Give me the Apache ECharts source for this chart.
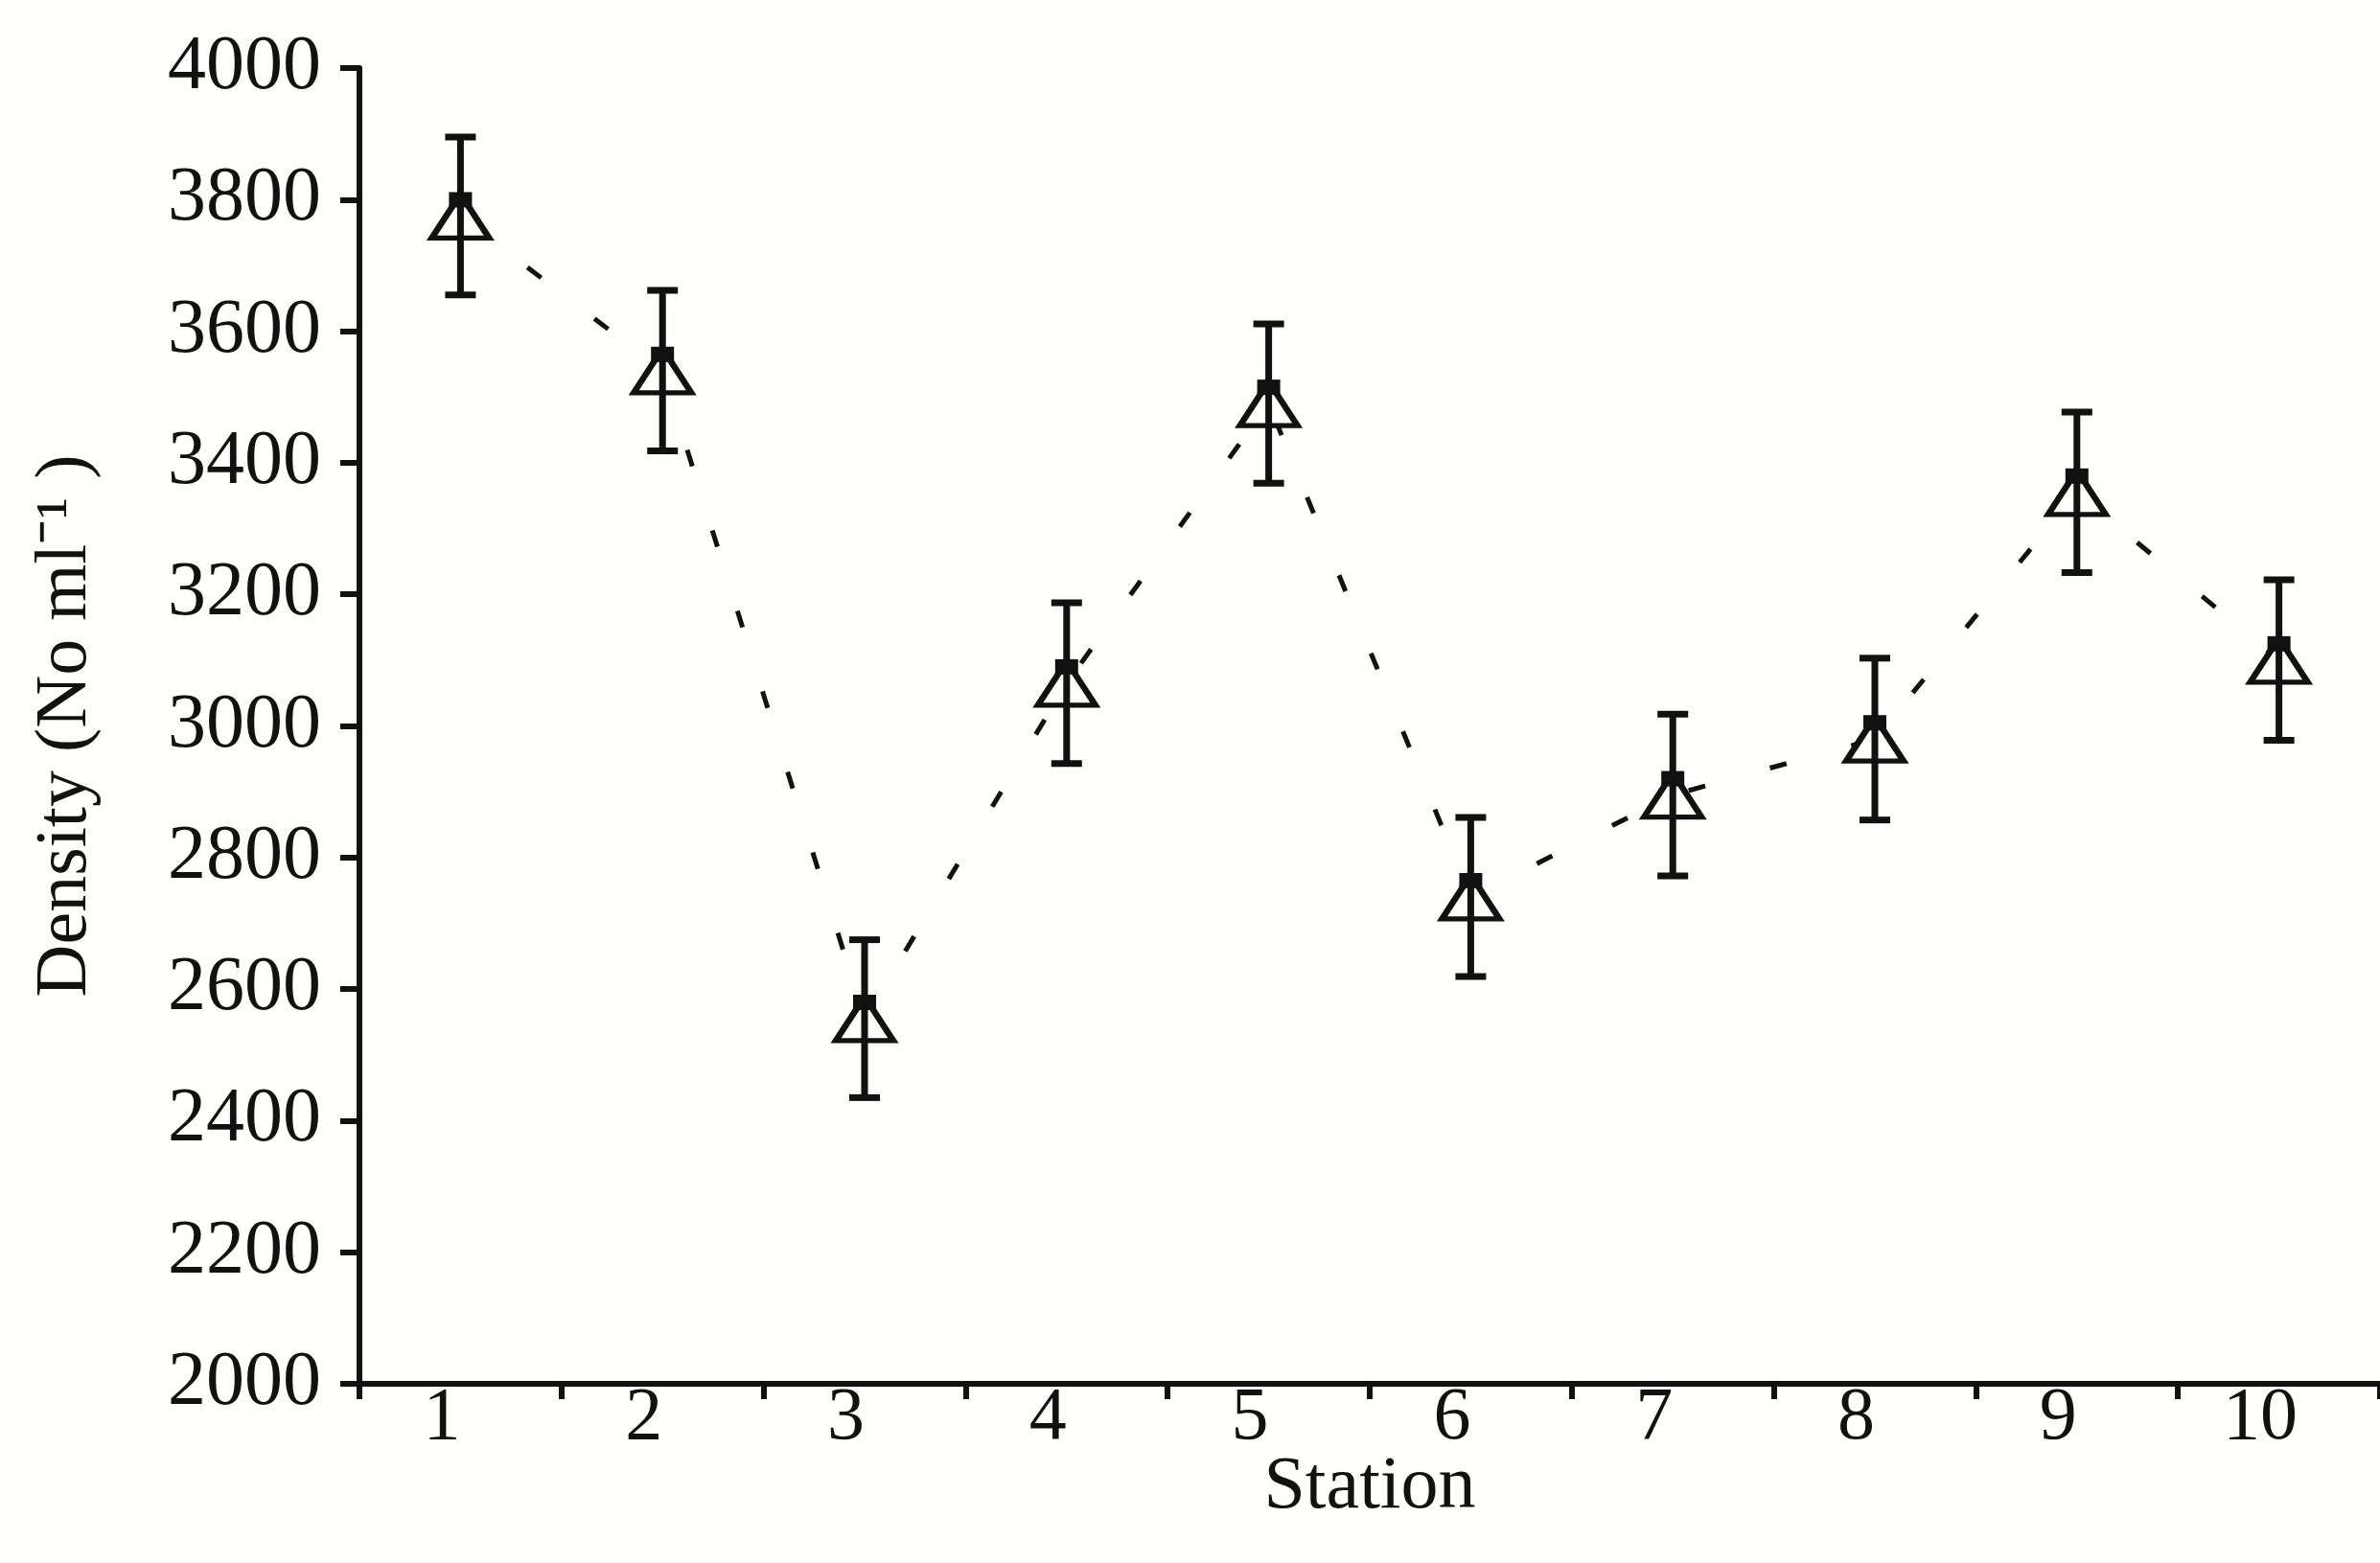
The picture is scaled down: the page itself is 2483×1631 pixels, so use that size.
<!DOCTYPE html>
<html>
<head>
<meta charset="utf-8">
<script src="https://cdn.jsdelivr.net/npm/echarts@6/dist/echarts.min.js"></script>
<style>
  html, body { margin: 0; padding: 0; background: #fefefa; }
  #chart { width: 2483px; height: 1631px; }
</style>
</head>
<body>
<div id="chart"></div>
<script>
var stations = ['1', '2', '3', '4', '5', '6', '7', '8', '9', '10'];
var density = [3775, 3540, 2555, 3065, 3490, 2740, 2895, 2980, 3355, 3100];
var errors = [120, 122, 120, 122, 121, 121, 123, 123, 122, 122];
var yTicks = { min: 2000, max: 4000, step: 200 };

var font = 'Liberation Serif';
var myChart = echarts.init(document.getElementById('chart'));

var barData = density.map(function(v, i) {
	return [i, v - errors[i], v + errors[i]];
});

var option = {
	backgroundColor: '#fefefa',
	animation: false,
	grid: {
		left: 375,
		right: 0,
		top: 71,
		bottom: 187,
		containLabel: false,
		outerBoundsMode: 'none'
	},
	xAxis: {
		type: 'category',
		data: stations,
		boundaryGap: true,
		name: 'Station',
		nameLocation: 'middle',
		nameGap: 70,
		nameMoveOverlap: false,
		nameTextStyle: { fontFamily: font, fontSize: 78, color: '#111' },
		axisLine: { lineStyle: { color: '#111', width: 6 } },
		axisTick: { show: true, alignWithLabel: false, length: 16, lineStyle: { color: '#111', width: 6 } },
		axisLabel: {
			fontFamily: font, fontSize: 78, color: '#111', margin: -2,
			// labels sit a little left of the category centre in the original
			formatter: function(v) { return v + '\u00A0\u00A0'; }
		},
		splitLine: { show: false }
	},
	yAxis: {
		type: 'value',
		min: yTicks.min,
		max: yTicks.max,
		interval: yTicks.step,
		name: 'Density (No ml\u207B\u00B9 )',
		nameLocation: 'middle',
		nameGap: 268,
		nameTextStyle: { fontFamily: font, fontSize: 76, color: '#111' },
		axisLine: { show: true, lineStyle: { color: '#111', width: 6 } },
		axisTick: { show: true, length: 20, lineStyle: { color: '#111', width: 6 } },
		axisLabel: {
			fontFamily: font, fontSize: 80, color: '#111', margin: 40,
			formatter: function(v) { return String(v); }
		},
		splitLine: { show: false }
	},
	series: [{
		name: 'Density',
		type: 'line',
		data: density,
		symbol: 'triangle',
		symbolSize: [60, 46],
		itemStyle: { color: '#fefefa', borderColor: '#111', borderWidth: 6 },
		lineStyle: { color: '#111', width: 5, type: [18, 70] },
		z: 3
	}, {
		name: 'Error',
		type: 'custom',
		data: barData,
		renderItem: function(params, api) {
			var x = api.value(0);
			var lo = api.coord([x, api.value(1)]);
			var hi = api.coord([x, api.value(2)]);
			var mid = api.coord([x, density[params.dataIndex]]);
			var half = 16;
			var st = { stroke: '#111', lineWidth: 7 };
			return {
				type: 'group',
				children: [
					{ type: 'line', shape: { x1: hi[0], y1: hi[1], x2: lo[0], y2: lo[1] }, style: st },
					{ type: 'line', shape: { x1: hi[0] - half, y1: hi[1], x2: hi[0] + half, y2: hi[1] }, style: st },
					{ type: 'line', shape: { x1: lo[0] - half, y1: lo[1], x2: lo[0] + half, y2: lo[1] }, style: st },
					{ type: 'rect', shape: { x: mid[0] - 12, y: mid[1] - 25, width: 24, height: 16 }, style: { fill: '#111' } }
				]
			};
		},
		z: 4
	}]
};
myChart.setOption(option);
</script>
</body>
</html>
